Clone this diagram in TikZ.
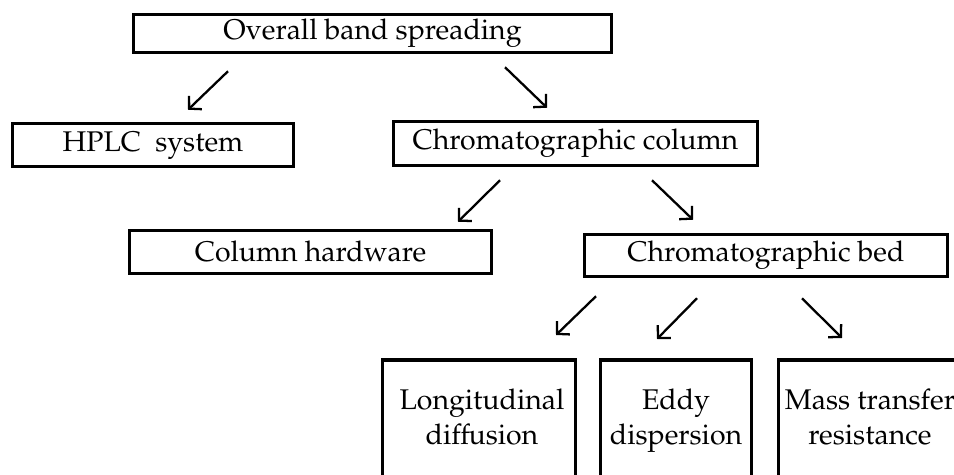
\documentclass[tikz,border=0pt]{standalone}
\usepackage[T1]{fontenc}
\usepackage{amsmath, amssymb, pxfonts}
\usepackage{tikz}
\usetikzlibrary{arrows.meta}

\begin{document}
\begin{tikzpicture}
\tikzset{ >={Straight Barb[length=5pt,width=10.5pt]},
  box/.style={draw, line width=2pt, inner sep=0pt, font=\fontsize{16.2}{19.9}\selectfont},
  tallbox/.style={draw, line width=2pt, anchor=north, minimum height=3cm},
  cell/.style={align=center, inner sep=0pt, text depth=0pt, font=\fontsize{16.2}{19.9}\selectfont},
  arr/.style={->, line width=1.3pt},
}

\useasboundingbox (0,0) rectangle (19.08,9.5);
\clip (0,0) rectangle (19.08,9.5);

%\draw [lightgray, dashed](0,0) grid (19,9);

\node [box, minimum width=9.56cm, minimum height=0.76cm] (top) at (7.45,8.83) {Overall band spreading};

\node [box, minimum width=5.62cm, minimum height=0.86cm] (hplc) at (3.06,6.60) {HPLC~ system};
\node [box, minimum width=7.28cm, minimum height=0.88cm] (col) at (11.51,6.63) {Chromatographic column};

\node [box, minimum width=7.24cm, minimum height=0.86cm] (hw) at (6.21,4.46) {Column hardware};
\node [box, minimum width=7.26cm, minimum height=0.84cm] (bed) at (15.32,4.39) {Chromatographic bed};

\node [tallbox, minimum width=3.86cm] (ldbox) at (9.58,2.34) {};
\node [tallbox, minimum width=3.02cm] (edbox) at (13.52,2.34) {};
\node [tallbox, minimum width=3.66cm] (mtbox) at (17.40,2.34) {};

\node [cell] (ld) at ([xshift=0.06cm,yshift=-1.18cm]ldbox.north) {Longitudinal\\diffusion};
\node [cell] (ed) at ([yshift=-1.18cm]edbox.north) {Eddy\\dispersion};
\node [cell] (mt) at ([yshift=-1.18cm]mtbox.north) {Mass transfer\\resistance};

\draw [arr] ([xshift=-2.89cm,yshift=-0.34cm]top.south) -- ([xshift=0.70cm,yshift=0.24cm]hplc.north);
\draw [arr] ([xshift=2.65cm,yshift=-0.26cm]top.south) -- ([xshift=-0.57cm,yshift=0.24cm]col.north);

\draw [arr] ([xshift=-1.51cm,yshift=-0.26cm]col.south) -- ([xshift=2.95cm,yshift=0.14cm]hw.north);
\draw [arr] ([xshift=1.53cm,yshift=-0.26cm]col.south) -- ([xshift=-1.46cm,yshift=0.26cm]bed.north);

\draw [arr] ([xshift=-3.40cm,yshift=-0.36cm]bed.south) -- ([xshift=1.54cm,yshift=0.46cm]ldbox.north);
\draw [arr] ([xshift=-1.38cm,yshift=-0.40cm]bed.south) -- ([xshift=-0.38cm,yshift=0.38cm]edbox.north);
\draw [arr] ([xshift=0.72cm,yshift=-0.40cm]bed.south) -- ([xshift=-0.56cm,yshift=0.40cm]mtbox.north);

\end{tikzpicture}
\end{document}
